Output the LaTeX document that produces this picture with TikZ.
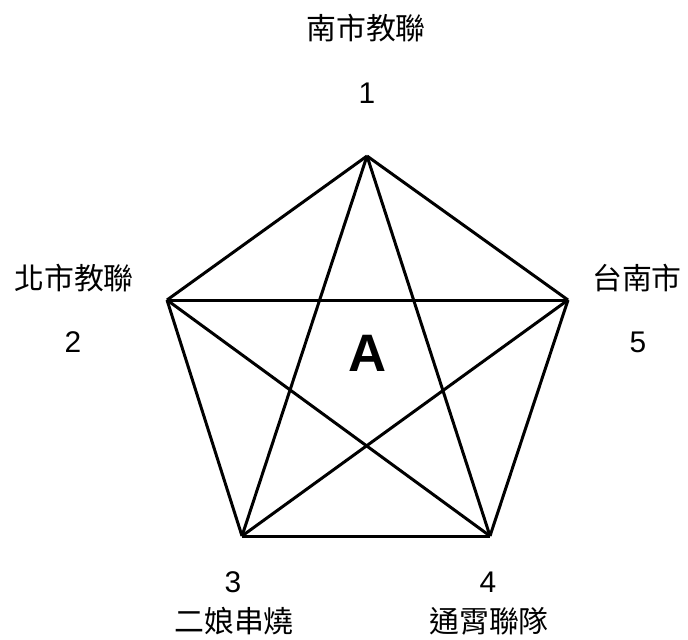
\documentclass[tikz,border=0pt]{standalone}
\usepackage{fontspec}
\setmainfont{Liberation Sans}
\newfontfamily\cjk{Noto Sans CJK TC}
\newcommand{\lbl}[1]{{\cjk #1}}

\begin{document}
\begin{tikzpicture}[x=0.02cm,y=-0.02cm,every node/.style={font=\fontsize{17}{20}\selectfont,inner sep=0pt}]
	\useasboundingbox (0,0) rectangle (688,639);
	\coordinate (1) at (367,156);
	\coordinate (2) at (167,300);
	\coordinate (3) at (242,536);
	\coordinate (4) at (490,536);
	\coordinate (5) at (568,300);
	\path[line width=1.7pt,line join=miter] (1)edge(2)(2)edge(3)(3)edge(4)(4)edge(5)(5)edge(1);
	\path[line width=1.7pt] (1)edge(3)(1)edge(4)(2)edge(4)(2)edge(5)(3)edge(5);
	
	\node at (366,28)(n1){\lbl{南市教聯}};
	\node at (367,93)(d1){1};
	\node at (74,278)(n2){\lbl{北市教聯}};
	\node at (73,342)(d2){2};
	\node at (233,582)(d3){3};
	\node at (234,621)(n3){\lbl{二娘串燒}};
	\node at (488,582)(d4){4};
	\node at (489,621)(n4){\lbl{通霄聯隊}};
	\node at (637,278)(n5){\lbl{台南市}};
	\node at (638,342)(d5){5};
	
	\node at (368,353)(a){\fontsize{30}{34}\selectfont\bfseries A};
\end{tikzpicture}
\end{document}
